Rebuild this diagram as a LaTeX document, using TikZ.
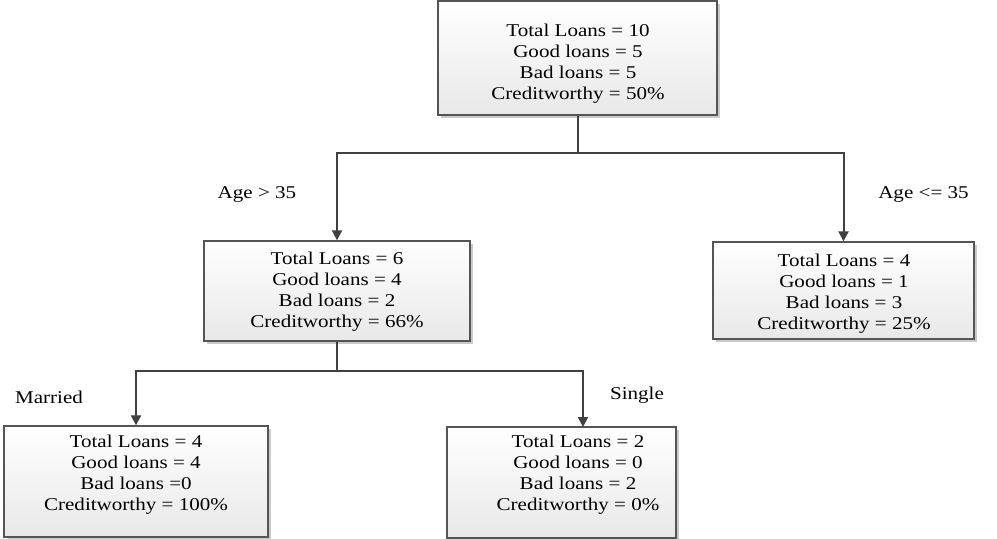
\documentclass[tikz,border=0pt]{standalone}
\usepackage{fontspec}
\setmainfont{Liberation Serif}[FakeStretch=1.17]
\usetikzlibrary{arrows.meta,shadows,fit}
\definecolor{linegray}{HTML}{404040}
\definecolor{boxline}{HTML}{555555}
\begin{document}
\begin{tikzpicture}[x=0.75pt,y=-0.75pt,
  box/.style={draw=boxline, line width=1pt, inner sep=0pt, rectangle,
    top color=white, bottom color=black!9,
    drop shadow={shadow xshift=2.2pt, shadow yshift=-2.2pt, fill=black!35, opacity=0.6}},
  boxtext/.style={align=center, inner sep=0pt, font=\fontsize{13.5}{15.75}\selectfont},
  lbl/.style={inner sep=0pt, font=\fontsize{13.5}{15.75}\selectfont},
  conn/.style={draw=linegray, line width=1.5pt},
  arr/.style={conn, -{Triangle[length=7.5pt,width=7.5pt]}}]
\useasboundingbox (0,0) rectangle (997,539);

% boxes
\node[box, fit={(438,1) (717,115)}] (root) {};
\node[box, fit={(204,241) (470,341)}] (left) {};
\node[box, fit={(713,242) (974,339)}] (right) {};
\node[box, fit={(4,426) (268,537)}] (married) {};
\node[box, fit={(447,427) (676,538)}] (single) {};

% texts
\node[boxtext] (rootT) at (578,63.5) {Total Loans = 10\\Good loans = 5\\Bad loans = 5\\Creditworthy = 50\%};
\node[boxtext] (leftT) at (337,291.5) {Total Loans = 6\\Good loans = 4\\Bad loans = 2\\Creditworthy = 66\%};
\node[boxtext] (rightT) at (844,294) {Total Loans = 4\\Good loans = 1\\Bad loans = 3\\Creditworthy = 25\%};
\node[boxtext] (marT) at (136,474.5) {Total Loans = 4\\Good loans = 4\\Bad loans =0\\Creditworthy = 100\%};
\node[boxtext] (sinT) at (578,475) {Total Loans = 2\\Good loans = 0\\Bad loans = 2\\Creditworthy = 0\%};

% labels
\node[lbl] (l1) at (257,194) {Age > 35};
\node[lbl, anchor=west] (l2) at (878,194) {Age <= 35};
\node[lbl] (l3) at (49,397) {Married};
\node[lbl] (l4) at (637,395) {Single};

% connectors
\coordinate (j1) at (578,153);
\coordinate (j2) at (337,371);
\coordinate (sinN) at (583,427);
\draw[conn] (root.south -| j1) -- (j1);
\draw[arr] (j1) -| (left.north);
\draw[arr] (j1) -| (right.north);
\draw[conn] (left.south) -- (j2);
\draw[arr] (j2) -| (married.north);
\draw[arr] (j2) -| (sinN);
\end{tikzpicture}
\end{document}
